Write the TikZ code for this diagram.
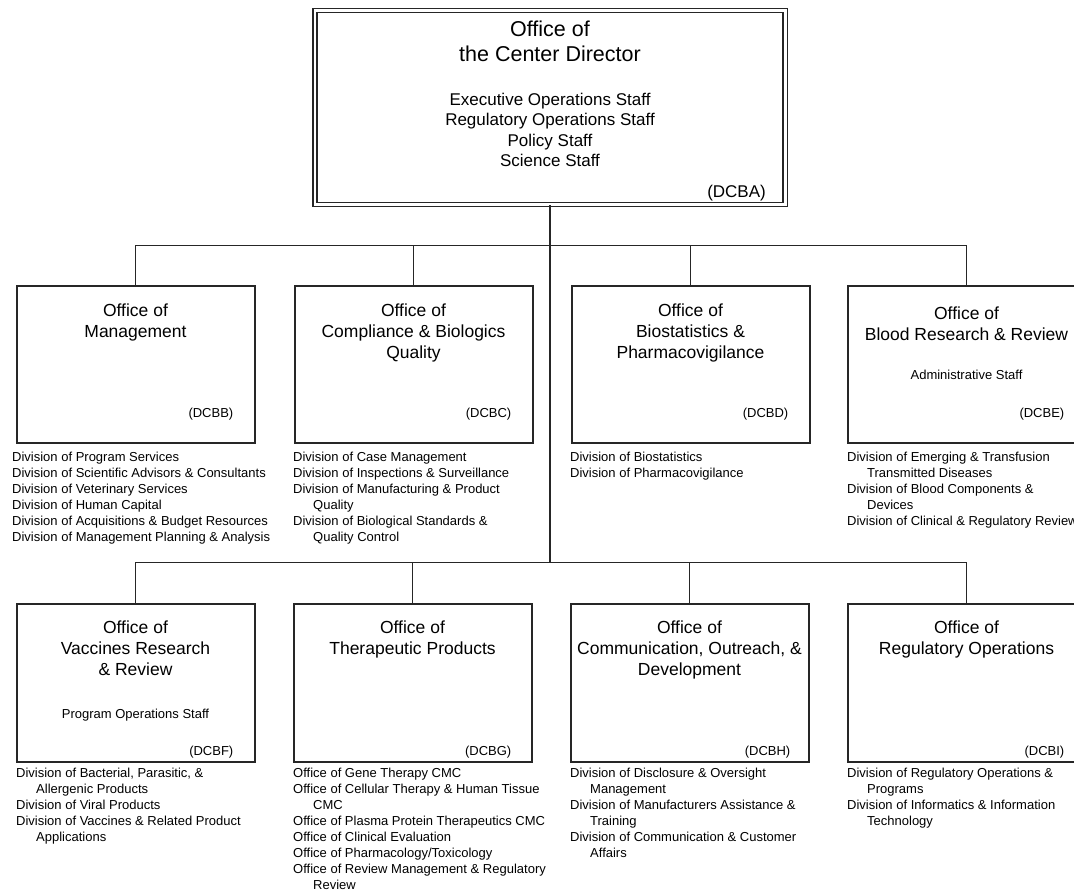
\documentclass[tikz,border=0pt]{standalone}
\usepackage{fontspec}
\setmainfont{Liberation Sans}
\newcommand{\fsTitleBig}{\fontsize{21.5}{25}\selectfont}
\newcommand{\fsTitle}{\fontsize{17.5}{21}\selectfont}
\newcommand{\fsStaff}{\fontsize{17}{20.5}\selectfont}
\newcommand{\fsSmall}{\fontsize{13}{16}\selectfont}
\newcommand{\hang}{\hspace*{20pt}}
\begin{document}
\begin{tikzpicture}[x=1pt,y=-1pt,
  officebox/.style={draw=black!85, line width=2pt, inner sep=0pt, minimum width=238pt, anchor=north west},
  row1box/.style={officebox, minimum height=157pt},
  row2box/.style={officebox, minimum height=158pt},
  titletext/.style={inner sep=0pt, anchor=north, align=center, font=\fsTitle},
  stafftext/.style={inner sep=0pt, anchor=north, align=center, font=\fsSmall},
  codetext/.style={inner sep=0pt, anchor=east, font=\fsSmall},
  divlist/.style={inner sep=0pt, anchor=north west, align=left, font=\fsSmall},
  conn/.style={draw=black!85, line width=1.9pt}
]
\useasboundingbox (0,0) rectangle (1074,890);
\clip (0,0) rectangle (1074,890);

% top box
\node[draw=black!85, double, double distance=2.5pt, line width=1.7pt, inner sep=0pt,
      minimum width=470.5pt, minimum height=194pt] (top) at (550,107.5) {};
\node[inner sep=0pt, anchor=north, align=center, font=\fsTitleBig] (toptitle) at (550,20.5)
  {Office of\\the Center Director};
\node[inner sep=0pt, anchor=north, align=center, font=\fsStaff] (topstaff) at (550,92.8)
  {Executive Operations Staff\\Regulatory Operations Staff\\Policy Staff\\Science Staff};
\node[inner sep=0pt, anchor=east, font=\fsStaff] (topcode) at (766,193) {(DCBA)};

% junctions
\coordinate (j1) at (550,245.5);
\coordinate (j2) at (550,562.5);

% row 1 boxes
\node[row1box] (b1) at (15.5,285.5) {};
\node[row1box] (b2) at (293.5,285.5) {};
\node[row1box] (b3) at (570.5,285.5) {};
\node[row1box] (b4) at (846.5,285.5) {};

% row 2 boxes
\node[row2box] (c1) at (15.5,602.5) {};
\node[row2box] (c2) at (292.5,602.5) {};
\node[row2box] (c3) at (569.5,602.5) {};
\node[row2box] (c4) at (846.5,602.5) {};

% connectors
\draw[conn] (top.south) -- (j2);
\draw[conn] (b1.north) |- (j1) -| (b4.north);
\draw[conn] (b2.north) -- (b2.north |- j1);
\draw[conn] (b3.north) -- (b3.north |- j1);
\draw[conn] (c1.north) |- (j2) -| (c4.north);
\draw[conn] (c2.north) -- (c2.north |- j2);
\draw[conn] (c3.north) -- (c3.north |- j2);

% row 1 texts
\node[titletext] (t1) at (b1.north |- 0,303.5) {Office of\\Management};
\node[codetext] (k1) at ([xshift=-22pt]b1.east |- 0,414) {(DCBB)};
\node[titletext] (t2) at (b2.north |- 0,303.5) {Office of\\Compliance \& Biologics\\Quality};
\node[codetext] (k2) at ([xshift=-22pt]b2.east |- 0,414) {(DCBC)};
\node[titletext] (t3) at (b3.north |- 0,303.5) {Office of\\Biostatistics \&\\Pharmacovigilance};
\node[codetext] (k3) at ([xshift=-22pt]b3.east |- 0,414) {(DCBD)};
\node[titletext] (t4) at (b4.north |- 0,306.5) {Office of\\Blood Research \& Review};
\node[stafftext] (s4) at (b4.north |- 0,370.3) {Administrative Staff};
\node[codetext] (k4) at ([xshift=-22pt]b4.east |- 0,414) {(DCBE)};

% row 1 lists
\node[divlist] (d1) at (12,452.3) {Division of Program Services\\Division of Scientific Advisors \& Consultants\\Division of Veterinary Services\\Division of Human Capital\\Division of Acquisitions \& Budget Resources\\Division of Management Planning \& Analysis};
\node[divlist] (d2) at (293,452.3) {Division of Case Management\\Division of Inspections \& Surveillance\\Division of Manufacturing \& Product\\\hang Quality\\Division of Biological Standards \&\\\hang Quality Control};
\node[divlist] (d3) at (570,452.3) {Division of Biostatistics\\Division of Pharmacovigilance};
\node[divlist] (d4) at (847,452.3) {Division of Emerging \& Transfusion\\\hang Transmitted Diseases\\Division of Blood Components \&\\\hang Devices\\Division of Clinical \& Regulatory Review};

% row 2 texts
\node[titletext] (u1) at (c1.north |- 0,620.7) {Office of\\Vaccines Research\\\& Review};
\node[stafftext] (r1) at (c1.north |- 0,709.3) {Program Operations Staff};
\node[codetext] (m1) at ([xshift=-22pt]c1.east |- 0,752) {(DCBF)};
\node[titletext] (u2) at (c2.north |- 0,620.7) {Office of\\Therapeutic Products};
\node[codetext] (m2) at ([xshift=-21pt]c2.east |- 0,752) {(DCBG)};
\node[titletext] (u3) at (c3.north |- 0,620.7) {Office of\\Communication, Outreach, \&\\Development};
\node[codetext] (m3) at ([xshift=-19pt]c3.east |- 0,752) {(DCBH)};
\node[titletext] (u4) at (c4.north |- 0,620.7) {Office of\\Regulatory Operations};
\node[codetext] (m4) at ([xshift=-22pt]c4.east |- 0,752) {(DCBI)};

% row 2 lists
\node[divlist] (e1) at (16,768.3) {Division of Bacterial, Parasitic, \&\\\hang Allergenic Products\\Division of Viral Products\\Division of Vaccines \& Related Product\\\hang Applications};
\node[divlist] (e2) at (293,768.3) {Office of Gene Therapy CMC\\Office of Cellular Therapy \& Human Tissue\\\hang CMC\\Office of Plasma Protein Therapeutics CMC\\Office of Clinical Evaluation\\Office of Pharmacology/Toxicology\\Office of Review Management \& Regulatory\\\hang Review};
\node[divlist] (e3) at (570,768.3) {Division of Disclosure \& Oversight\\\hang Management\\Division of Manufacturers Assistance \&\\\hang Training\\Division of Communication \& Customer\\\hang Affairs};
\node[divlist] (e4) at (847,768.3) {Division of Regulatory Operations \&\\\hang Programs\\Division of Informatics \& Information\\\hang Technology};
\end{tikzpicture}
\end{document}
